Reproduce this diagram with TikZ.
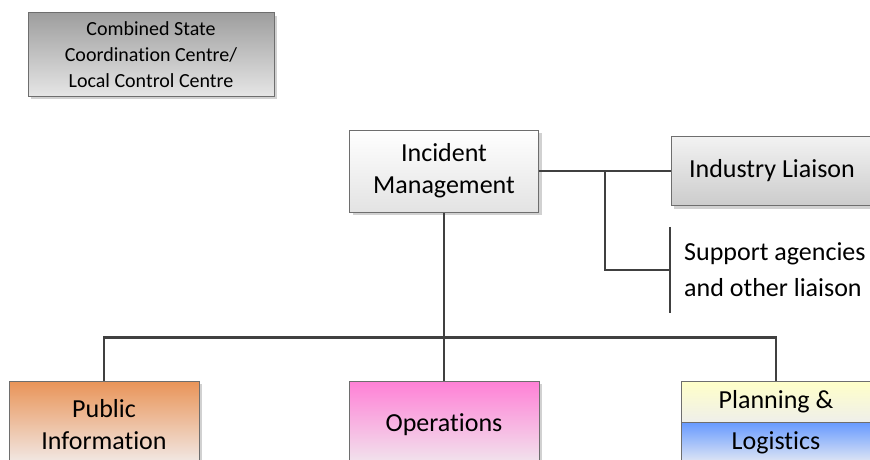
\documentclass[tikz,border=0pt]{standalone}
\usepackage{fontspec}
\setmainfont{Carlito}[Ligatures=NoCommon]
\usetikzlibrary{shadows,calc}

\definecolor{boxBorder}{HTML}{6E6E6E}
\definecolor{lineGrey}{HTML}{404040}
\definecolor{pubTop}{HTML}{E99458}
\definecolor{pubBot}{HTML}{F2EEEE}
\definecolor{opsTop}{HTML}{FF80D6}
\definecolor{opsBot}{HTML}{F0EAEE}
\definecolor{planTop}{HTML}{FFFFC8}
\definecolor{planBot}{HTML}{EFEFEA}
\definecolor{logTop}{HTML}{6699FF}
\definecolor{logBot}{HTML}{E2E8F4}

\begin{document}
\begin{tikzpicture}[x=1pt,y=1pt]
			\tikzstyle{boxs} = [draw=boxBorder, line width=1pt, align=center, %text width=4em,
				minimum width=190pt, minimum height=87pt, font=\fontsize{26}{32}\selectfont,
				drop shadow={shadow xshift=3pt, shadow yshift=-3pt, fill=black!18, opacity=1}]
			\tikzstyle{line} = [draw, lineGrey, line width=2.5pt]

			\useasboundingbox (0,0) rectangle (870,459);
			\clip (0,0) rectangle (870,459);

			\node(CombinedCentre)[boxs, minimum width=246pt, minimum height=83pt,
				font=\fontsize{20}{26}\selectfont, top color=black!38, bottom color=black!10]
				at (151,404.5) {Combined State\\Coordination Centre/\\Local Control Centre};

			\node(IncidentMgmt)[boxs, minimum width=189pt, minimum height=82pt,
				top color=white, bottom color=black!11] at (444,288) {Incident\\Management};

			\tikzset{node distance = 328pt}
			\node(IndustryLiaison)[boxs, right of = IncidentMgmt, minimum width=202pt, minimum height=69pt,
				top color=black!5, bottom color=black!20]{Industry Liaison} edge[line] (IncidentMgmt.east);

			\node(SupportAgencies)[right, align=left, inner xsep=14pt, minimum height=86pt,
				font=\fontsize{26}{36}\selectfont] at (670,189) {Support agencies\\and other liaison};
			\draw[line] (SupportAgencies.north west) -- (SupportAgencies.south west);
			\coordinate (liaisonTee) at ($(IncidentMgmt.east)!0.5!(IndustryLiaison.west)$);
			\draw[line] (liaisonTee) |- (SupportAgencies.west);

			\tikzset{node distance = 253.5pt}
			\node(Operations)[boxs, below of = IncidentMgmt,
				top color=opsTop, bottom color=opsBot]{Operations};
			\tikzset{node distance = 340pt}
			\node(PublicInfo)[boxs, left of = Operations, top color=pubTop, bottom color=pubBot]{Public\\Information};
			\tikzset{node distance = 332pt}
			\node(Planning)[boxs, right of = Operations, yshift=23pt, minimum height=41pt,
				top color=planTop, bottom color=planBot]{Planning \&};
			\tikzset{node distance = 41pt}
			\node(Logistics)[boxs, below of = Planning, minimum height=41pt,
				top color=logTop, bottom color=logBot]{Logistics};

			\coordinate (busTee) at ($(IncidentMgmt.south)!0.745!(Operations.north)$);
			\draw[line] (IncidentMgmt.south) -- (Operations.north);
			\draw[line] (PublicInfo.north) |- (busTee) -| (Planning.north);

		\end{tikzpicture}
\end{document}
